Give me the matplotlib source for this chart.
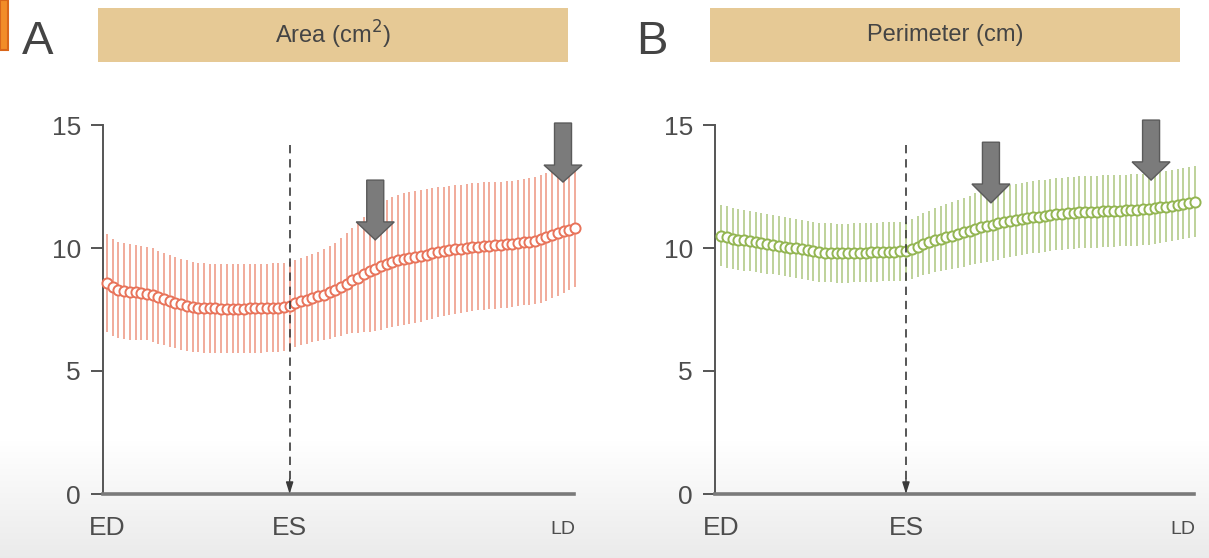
import numpy as np
import matplotlib
matplotlib.use("Agg")
import matplotlib.pyplot as plt
from matplotlib.patches import Rectangle, Polygon

plt.rcParams['font.family'] = ['Liberation Sans Narrow', 'Liberation Sans', 'DejaVu Sans']

# ---------------- data ----------------
x_tick_labels = ["ED", "ES"]
end_label = "LD"
es_index = 32
y_ticks = [0, 5, 10, 15]

area_mean = [
    8.58, 8.40, 8.30, 8.25, 8.22, 8.20, 8.18, 8.15, 8.08, 8.00,
    7.92, 7.85, 7.78, 7.72, 7.66, 7.62, 7.58, 7.56, 7.55, 7.55,
    7.54, 7.54, 7.54, 7.54, 7.54, 7.55, 7.55, 7.55, 7.56, 7.57,
    7.58, 7.60, 7.63, 7.75, 7.83, 7.90, 7.97, 8.03, 8.10, 8.20,
    8.30, 8.42, 8.55, 8.68, 8.80, 8.93, 9.05, 9.15, 9.25, 9.35,
    9.42, 9.50, 9.56, 9.60, 9.63, 9.67, 9.72, 9.78, 9.83, 9.87,
    9.90, 9.94, 9.97, 10.00, 10.03, 10.06, 10.08, 10.10, 10.11, 10.13,
    10.15, 10.17, 10.20, 10.23, 10.26, 10.30, 10.37, 10.45, 10.53, 10.60,
    10.68, 10.75, 10.80]
area_sd = [
    2.00, 1.98, 1.96, 1.95, 1.94, 1.93, 1.92, 1.91, 1.90, 1.89,
    1.88, 1.87, 1.86, 1.85, 1.84, 1.83, 1.82, 1.81, 1.80, 1.80,
    1.80, 1.80, 1.80, 1.80, 1.80, 1.80, 1.80, 1.80, 1.80, 1.80,
    1.80, 1.80, 1.80, 1.78, 1.78, 1.79, 1.80, 1.82, 1.85, 1.88,
    1.92, 1.98, 2.05, 2.15, 2.25, 2.35, 2.45, 2.52, 2.58, 2.62,
    2.65, 2.67, 2.68, 2.68, 2.68, 2.67, 2.66, 2.65, 2.64, 2.63,
    2.62, 2.61, 2.60, 2.60, 2.60, 2.59, 2.59, 2.58, 2.58, 2.57,
    2.57, 2.56, 2.56, 2.56, 2.57, 2.58, 2.60, 2.60, 2.58, 2.55,
    2.50, 2.45, 2.40]

perim_mean = [
    10.50, 10.45, 10.38, 10.34, 10.31, 10.28, 10.25, 10.22, 10.18, 10.14,
    10.10, 10.06, 10.02, 9.98, 9.94, 9.90, 9.86, 9.83, 9.81, 9.80,
    9.79, 9.79, 9.79, 9.80, 9.80, 9.81, 9.82, 9.83, 9.84, 9.85,
    9.85, 9.86, 9.87, 9.95, 10.05, 10.15, 10.24, 10.32, 10.38, 10.44,
    10.50, 10.57, 10.64, 10.71, 10.78, 10.84, 10.90, 10.95, 11.00, 11.05,
    11.09, 11.13, 11.17, 11.21, 11.25, 11.28, 11.31, 11.34, 11.37, 11.39,
    11.41, 11.43, 11.45, 11.46, 11.47, 11.48, 11.49, 11.50, 11.51, 11.52,
    11.53, 11.54, 11.55, 11.57, 11.59, 11.62, 11.65, 11.68, 11.72, 11.76,
    11.80, 11.84, 11.88]
perim_sd = [
    1.25, 1.25, 1.24, 1.24, 1.23, 1.23, 1.22, 1.22, 1.22, 1.21,
    1.21, 1.21, 1.20, 1.20, 1.20, 1.20, 1.20, 1.20, 1.20, 1.20,
    1.20, 1.20, 1.20, 1.20, 1.20, 1.20, 1.20, 1.20, 1.20, 1.20,
    1.20, 1.20, 1.20, 1.22, 1.24, 1.26, 1.28, 1.30, 1.32, 1.34,
    1.36, 1.38, 1.40, 1.42, 1.44, 1.45, 1.46, 1.47, 1.47, 1.47,
    1.47, 1.47, 1.47, 1.47, 1.47, 1.47, 1.47, 1.47, 1.47, 1.47,
    1.47, 1.47, 1.46, 1.46, 1.46, 1.46, 1.46, 1.46, 1.45, 1.45,
    1.45, 1.45, 1.45, 1.45, 1.45, 1.45, 1.45, 1.45, 1.45, 1.45,
    1.45, 1.45, 1.45]

panels = [
    dict(letter="A", title="Area (cm$^2$)", mean=area_mean, sd=area_sd,
         bar_color="#F0A593", edge="#E8735A",
         arrows=[(47, 12.76, 11.06, 10.33), (79.9, 15.08, 13.37, 12.68)]),
    dict(letter="B", title="Perimeter (cm)", mean=perim_mean, sd=perim_sd,
         bar_color="#B9CF92", edge="#93B552",
         arrows=[(46.7, 14.3, 12.6, 11.83), (74.4, 15.2, 13.5, 12.76)]),
]

# ---------------- figure ----------------
W, H = 1209, 558
fig = plt.figure(figsize=(W / 100, H / 100), dpi=100)
fig.patch.set_facecolor("white")

# bottom gray gradient background
bg = fig.add_axes([0, 0, 1, 1], zorder=-10)
rows = np.arange(H)
g = np.clip((rows - 440) / (H - 440), 0, 1)
grad = np.tile((1.0 - 0.08 * g)[:, None], (1, 2))
bg.imshow(np.dstack([grad, grad, grad]), aspect="auto", extent=[0, W, H, 0])
bg.add_patch(Rectangle((0, 0), 8, 50, facecolor="#F28C28", edgecolor="#D9661A", lw=1.5))
bg.set_xlim(0, W)
bg.set_ylim(H, 0)
bg.axis("off")

text_color = "#4d4d4d"
axes_px = [(103, 574, 107, 575), (715, 1194, 721, 1195)]
box_px = [(98, 568), (710, 1180)]
letter_px = [38, 652]

for k, p in enumerate(panels):
    ax_l, ax_r, first_px, last_px = axes_px[k]
    ax = fig.add_axes([ax_l / W, (H - 494) / H, (ax_r - ax_l) / W, (494 - 125) / H])
    ax.set_facecolor("none")
    n = len(p["mean"])
    ppu = (last_px - first_px) / (n - 1)
    x = np.arange(n)
    ax.set_xlim(-(first_px - ax_l) / ppu, (ax_r - first_px) / ppu)
    ax.set_ylim(0, 15)

    ax.errorbar(x, p["mean"], yerr=p["sd"], fmt="none", ecolor=p["bar_color"],
                elinewidth=1.3, capsize=0, zorder=2, clip_on=False)
    ax.plot(x, p["mean"], "o", ms=7.3, mfc="white", mec=p["edge"], mew=1.4,
            zorder=3, clip_on=False)

    # ES dashed line with arrowhead
    ax.plot([es_index, es_index], [14.2, 0.5], ls=(0, (5, 3.5)), color="#3a3a3a",
            lw=1.2, zorder=4)
    ax.annotate("", xy=(es_index, 0), xytext=(es_index, 0.6),
                arrowprops=dict(arrowstyle="-|>,head_length=0.7,head_width=0.22",
                                color="#3a3a3a", lw=1.0, shrinkA=0, shrinkB=0),
                zorder=4)

    # block arrows
    for (cx, ytop, yhead, ytip) in p["arrows"]:
        sw = 8.5 / ppu
        hw = 19.0 / ppu
        verts = [(cx - sw, ytop), (cx + sw, ytop), (cx + sw, yhead), (cx + hw, yhead),
                 (cx, ytip), (cx - hw, yhead), (cx - sw, yhead)]
        ax.add_patch(Polygon(verts, closed=True, facecolor="#7b7b7b",
                             edgecolor="#5a5a5a", lw=1.0, zorder=6, clip_on=False))

    for s in ["top", "right"]:
        ax.spines[s].set_visible(False)
    ax.spines["left"].set_color("#555555")
    ax.spines["left"].set_linewidth(1.4)
    ax.spines["bottom"].set_color("#7a7a7a")
    ax.spines["bottom"].set_linewidth(2.6)

    ax.set_yticks(y_ticks)
    ax.set_yticklabels([str(v) for v in y_ticks])
    ax.tick_params(axis="y", length=9, width=1.4, color="#555555", pad=7,
                   labelsize=19, labelcolor=text_color)
    ax.set_xticks([0, es_index])
    ax.set_xticklabels(x_tick_labels)
    ax.tick_params(axis="x", length=0, pad=16, labelsize=19, labelcolor=text_color)
    ax.text((ax_r - 11 - first_px) / ppu, -1.1, end_label, ha="center", va="top",
            fontsize=14, color=text_color)

    # header box & letter
    bx0, bx1 = box_px[k]
    fig.patches.append(Rectangle((bx0 / W, 1 - 62 / H), (bx1 - bx0) / W, 54 / H,
                                 transform=fig.transFigure, facecolor="#E6C995",
                                 edgecolor="none", zorder=1))
    fig.text((bx0 + bx1) / 2 / W, 1 - 35 / H, p["title"], ha="center", va="center",
             fontsize=17, color="#444444")
    fig.text(letter_px[k] / W, 1 - 42 / H, p["letter"], ha="center", va="center",
             fontsize=34, color="#444444")

fig.savefig("out.png", dpi=100)
